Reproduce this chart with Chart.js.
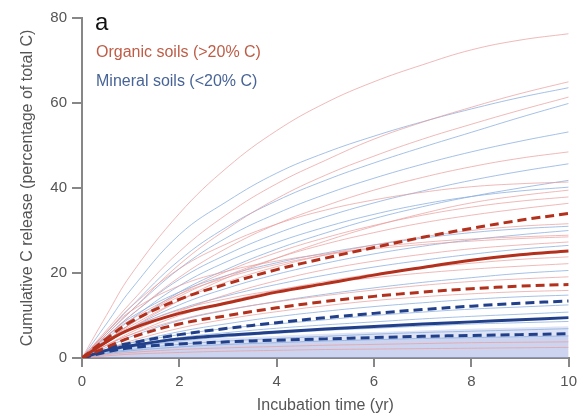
<!DOCTYPE html>
<html>
<head>
<meta charset="utf-8">
<script src="https://cdn.jsdelivr.net/npm/chart.js@4.4.0/dist/chart.umd.min.js"></script>
<style>
  html, body { margin: 0; padding: 0; background: #fff; }
  #wrap { width: 583px; height: 415px; }
</style>
</head>
<body>
<div id="wrap"><canvas id="chart" width="583" height="415"></canvas></div>
<script>
const years = [0, 0.5, 1, 2, 3, 4, 5, 6, 7, 8, 9, 10];
const yTicks = [0, 20, 40, 60, 80];
const xTicks = [0, 2, 4, 6, 8, 10];

// individual incubations, organic soils
const organicThin = [
  [0, 10, 19.5, 34, 45, 53.5, 60, 65, 69, 72.5, 74.8, 76.3],
  [0, 6.5, 13, 25, 34, 41, 46.5, 51.5, 55.5, 59, 62.2, 65],
  [0, 5.5, 11, 22, 30.5, 37.5, 43, 47.5, 51.5, 55, 58.3, 61.4],
  [0, 5, 10, 19, 26, 31.5, 35.8, 39.5, 42.5, 45, 47, 48.5],
  [0, 6, 12, 21, 27, 31.5, 34.8, 37.2, 39, 40.3, 41, 41.4],
  [0, 3.5, 7, 13.5, 19, 23.5, 27.5, 31, 34, 36.5, 38.2, 39.5],
  [0, 4, 8, 15, 20.5, 24.8, 28.3, 31.2, 33.6, 35.5, 36.9, 37.9],
  [0, 4, 8, 14.5, 19.5, 23.5, 26.8, 29.5, 31.8, 33.6, 35.1, 36.4],
  [0, 4, 7.5, 13.5, 18, 21.5, 24.3, 26.6, 28.5, 30, 31, 31.6],
  [0, 5, 9, 15, 19, 22, 24.2, 26, 27.2, 28, 28.5, 28.9],
  [0, 6, 11, 17, 20.5, 22.8, 24.5, 25.7, 26.7, 27.5, 28.1, 28.5],
  [0, 3, 6, 11, 15, 18.2, 20.8, 22.8, 24.4, 25.7, 26.6, 27.3],
  [0, 3, 5.5, 10, 13.3, 15.9, 18, 19.8, 21.2, 22.3, 23.2, 23.8],
  [0, 3.8, 7, 11.3, 14, 16, 17.6, 18.9, 20, 20.9, 21.6, 22.2],
  [0, 3, 5.5, 9, 11.4, 13.2, 14.7, 16, 17.1, 18, 18.6, 19.1],
  [0, 2, 4, 7, 9.2, 10.9, 12.3, 13.5, 14.4, 15.1, 15.6, 15.9],
  [0, 0.8, 1.3, 2, 2.4, 2.7, 3, 3.2, 3.4, 3.6, 3.7, 3.8],
  [0, 0.5, 0.9, 1.3, 1.6, 1.8, 2, 2.1, 2.2, 2.3, 2.4, 2.5]
];

// individual incubations, mineral soils
const mineralThin = [
  [0, 8, 16, 29, 37, 43.5, 48.3, 52.2, 55.6, 58.6, 61.3, 63.6],
  [0, 6, 12, 23, 31, 37, 41.8, 45.9, 49.6, 53.1, 56.6, 59.9],
  [0, 5.5, 11, 21, 28.5, 34, 38.5, 42.3, 45.6, 48.5, 51, 53.2],
  [0, 5, 10, 18.5, 24.5, 29.3, 33.2, 36.5, 39.3, 41.8, 43.9, 45.7],
  [0, 4, 8, 15.5, 21, 25.6, 29.4, 32.8, 35.6, 38, 40, 41.8],
  [0, 4.5, 9, 17, 22.8, 27.2, 30.8, 33.8, 36.2, 38, 39.3, 40.2],
  [0, 5, 9.5, 15.5, 19.5, 22.4, 24.7, 26.6, 28.2, 29.5, 30.4, 31],
  [0, 3.5, 7, 12.5, 16.5, 19.7, 22.3, 24.5, 26.3, 27.8, 29, 30],
  [0, 3.8, 7, 11.5, 14.7, 17.3, 19.5, 21.4, 23, 24.4, 25.6, 26.5],
  [0, 2.5, 5, 8.8, 11.3, 13.3, 15, 16.5, 17.8, 18.9, 19.9, 20.6],
  [0, 2, 3.6, 6.2, 8.1, 9.7, 11, 12.1, 13, 13.8, 14.4, 14.8],
  [0, 2, 3.5, 5.5, 7, 8, 9, 10, 10.8, 11.5, 12, 12.5],
  [0, 1.8, 3, 4.8, 6, 7, 7.8, 8.5, 9.2, 9.8, 10.3, 10.8],
  [0, 1.5, 2.5, 4, 5, 5.8, 6.5, 7, 7.5, 8, 8.3, 8.6],
  [0, 1.2, 2, 3.2, 4, 4.6, 5.1, 5.6, 6, 6.3, 6.6, 6.9],
  [0, 1, 1.7, 2.6, 3.2, 3.6, 4, 4.3, 4.6, 4.8, 5, 5.2]
];

// dense mass of mineral curves near the bottom (drawn as shaded bands)
const mineralBandOuter = [0, 1.7, 2.8, 4, 4.7, 5.2, 5.7, 6.1, 6.5, 6.9, 7.2, 7.5];
const mineralBandInner = [0, 1.2, 2, 2.9, 3.4, 3.8, 4.1, 4.4, 4.6, 4.8, 5, 5.1];

// median and quartiles
const organicUpper = [0, 4.5, 8.5, 13.8, 17.5, 20.8, 23.5, 26, 28.4, 30.5, 32.4, 34.0];
const organicMedian = [0, 3.8, 6.8, 10.5, 13, 15.5, 17.5, 19.5, 21.3, 23, 24.3, 25.2];
const organicLower = [0, 2.5, 4.8, 8, 10, 11.8, 13.3, 14.5, 15.5, 16.3, 16.9, 17.3];
const mineralUpper = [0, 2.2, 3.5, 5.5, 7, 8.3, 9.5, 10.5, 11.4, 12.2, 12.9, 13.4];
const mineralMedian = [0, 1.8, 2.9, 4.5, 5.4, 6.1, 6.8, 7.4, 8, 8.5, 9, 9.5];
const mineralLower = [0, 1.4, 2.4, 3.3, 3.8, 4.2, 4.5, 4.8, 5.1, 5.3, 5.5, 5.7];

const legendTexts = ["Organic soils (>20% C)", "Mineral soils (<20% C)"];
const panelLetter = "a";

const RED = "rgb(178,48,28)";
const BLUE = "rgb(34,64,138)";
const FONT = '"Liberation Sans", Arial, Helvetica, sans-serif';

const pts = (vals) => vals.map((v, i) => ({ x: years[i], y: v }));

const datasets = [];

datasets.push({
  data: pts(mineralBandOuter), borderWidth: 0, pointRadius: 0,
  backgroundColor: "rgba(160,175,225,0.35)", fill: "origin", order: 3
});
datasets.push({
  data: pts(mineralBandInner), borderWidth: 0, pointRadius: 0,
  backgroundColor: "rgba(150,160,215,0.25)", fill: "origin", order: 3
});

organicThin.forEach((c) => datasets.push({
  data: pts(c), borderColor: "rgba(232,155,155,0.7)", borderWidth: 1,
  pointRadius: 0, fill: false, order: 2
}));
mineralThin.forEach((c) => datasets.push({
  data: pts(c), borderColor: "rgba(135,172,222,0.75)", borderWidth: 1,
  pointRadius: 0, fill: false, order: 2
}));

const bold = (vals, color, dashed) => ({
  data: pts(vals), borderColor: color, borderWidth: 3, pointRadius: 0,
  borderDash: dashed ? [9, 5] : [], fill: false, order: 1
});
datasets.push(bold(organicUpper, RED, true));
datasets.push(bold(organicMedian, RED, false));
datasets.push(bold(organicLower, RED, true));
datasets.push(bold(mineralUpper, BLUE, true));
datasets.push(bold(mineralMedian, BLUE, false));
datasets.push(bold(mineralLower, BLUE, true));

// panel letter and coloured legend text
const panelText = {
  id: "panelText",
  afterDraw(chart) {
    const ctx = chart.ctx;
    ctx.save();
    ctx.textBaseline = "middle";
    ctx.textAlign = "left";
    ctx.fillStyle = "#111";
    ctx.font = "24px " + FONT;
    ctx.fillText(panelLetter, 95, 23);
    ctx.font = "16px " + FONT;
    ctx.fillStyle = "rgb(190,92,70)";
    ctx.fillText(legendTexts[0], 96, 53);
    ctx.fillStyle = "rgb(72,100,150)";
    ctx.fillText(legendTexts[1], 96, 82);
    ctx.restore();
  }
};

const axisGray = "rgb(135,135,135)";
const textGray = "rgb(85,85,85)";

new Chart(document.getElementById("chart"), {
  type: "line",
  data: { datasets },
  plugins: [panelText],
  options: {
    responsive: false,
    animation: false,
    layout: { padding: { top: 18, right: 13, left: 0, bottom: 0 } },
    plugins: { legend: { display: false }, tooltip: { enabled: false } },
    elements: { line: { tension: 0.4 } },
    scales: {
      x: {
        type: "linear", min: 0, max: 10,
        afterFit: (s) => { s.height = 57; },
        afterBuildTicks: (s) => { s.ticks = xTicks.map((v) => ({ value: v })); },
        grid: { drawOnChartArea: false, drawTicks: true, tickLength: 9, color: axisGray, lineWidth: 2 },
        border: { display: true, color: axisGray, width: 2 },
        ticks: { color: textGray, font: { size: 15, family: FONT }, padding: 6, maxRotation: 0 },
        title: {
          display: true, text: "Incubation time (yr)", color: textGray,
          font: { size: 16, family: FONT }, padding: { top: 0, bottom: 0 }
        }
      },
      y: {
        type: "linear", min: 0, max: 80,
        afterFit: (s) => { s.width = 82; },
        afterBuildTicks: (s) => { s.ticks = yTicks.map((v) => ({ value: v })); },
        grid: { drawOnChartArea: false, drawTicks: true, tickLength: 10, color: axisGray, lineWidth: 2 },
        border: { display: true, color: axisGray, width: 2 },
        ticks: { color: textGray, font: { size: 15, family: FONT }, padding: 5 },
        title: {
          display: true, text: "Cumulative C release (percentage of total C)", color: textGray,
          font: { size: 16, family: FONT }, padding: { top: 18, bottom: 0 }
        }
      }
    }
  }
});
</script>
</body>
</html>
